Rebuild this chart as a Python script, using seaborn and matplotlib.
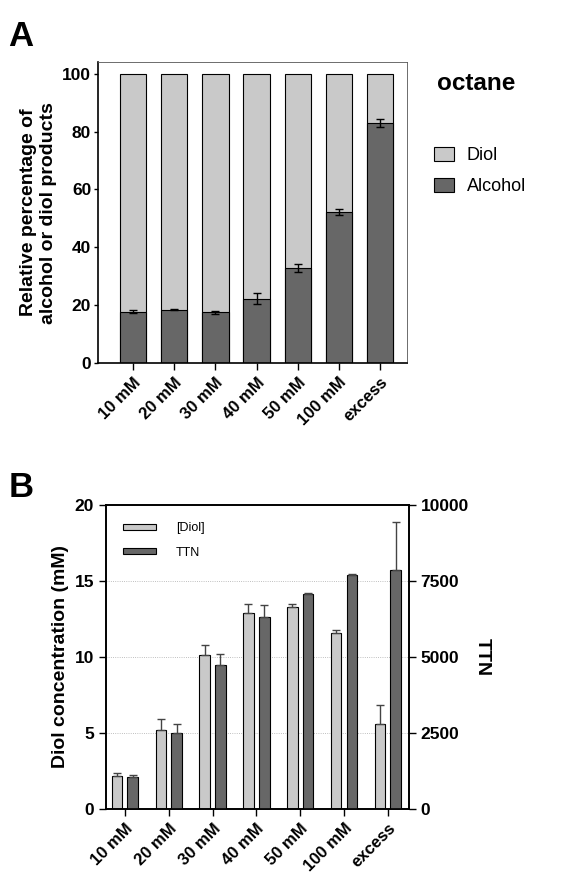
import numpy as np
import pandas as pd
import seaborn as sns
import matplotlib.pyplot as plt
from matplotlib.patches import Patch

conditions = ['10 mM', '20 mM', '30 mM', '40 mM', '50 mM', '100 mM', 'excess']

# panel A: relative percentage (alcohol fraction, total = 100)
alcohol_pct = [17.8, 18.4, 17.5, 22.3, 33.0, 52.3, 83.0]
alcohol_err = [0.5, 0.2, 0.4, 2.0, 1.4, 1.1, 1.4]
total_pct = [100, 100, 100, 100, 100, 100, 100]

# panel B: diol concentration (mM) and TTN
diol_mM = [2.2, 5.2, 10.1, 12.9, 13.3, 11.6, 5.6]
diol_err = [0.2, 0.7, 0.7, 0.6, 0.15, 0.15, 1.25]
ttn = [1050, 2500, 4750, 6300, 7075, 7700, 7875]
ttn_err = [75, 300, 350, 400, 15, 25, 1575]

LIGHT = '#c9c9c9'
DARK = '#676767'

sns.set_style('white')
plt.rcParams['font.family'] = ['Liberation Sans', 'DejaVu Sans']
plt.rcParams['text.color'] = 'black'
plt.rcParams['axes.labelcolor'] = 'black'
plt.rcParams['xtick.color'] = 'black'
plt.rcParams['ytick.color'] = 'black'

fig = plt.figure(figsize=(5.64, 8.75), dpi=100)

# ---------------- panel A ----------------
axA = fig.add_axes([0.174, 0.585, 0.548, 0.344])
dfA = pd.DataFrame({'cond': conditions, 'total': total_pct, 'alcohol': alcohol_pct})
sns.barplot(data=dfA, x='cond', y='total', color=LIGHT, saturation=1, width=0.64,
            edgecolor='black', linewidth=0.8, ax=axA)
sns.barplot(data=dfA, x='cond', y='alcohol', color=DARK, saturation=1, width=0.64,
            edgecolor='black', linewidth=0.8, ax=axA)
axA.errorbar(np.arange(len(conditions)), alcohol_pct, yerr=alcohol_err, fmt='none',
             ecolor='black', elinewidth=1, capsize=3, capthick=1)
axA.set_ylim(0, 104)
axA.set_xlim(-0.85, 6.66)
axA.set_yticks([0, 20, 40, 60, 80, 100])
axA.set_xlabel('')
axA.set_ylabel('Relative percentage of\nalcohol or diol products', fontsize=14,
               fontweight='bold', labelpad=4)
axA.tick_params(axis='both', which='both', direction='out', length=5, width=1,
                color='black', labelsize=12.5)
axA.tick_params(axis='y', left=True, length=3, pad=2)
axA.tick_params(axis='x', bottom=True)
for lab in axA.get_yticklabels():
    lab.set_fontweight('bold')
axA.set_xticks(range(len(conditions)))
axA.set_xticklabels(conditions, rotation=45, ha='right', rotation_mode='anchor',
                    fontweight='bold', fontsize=12)
for s in ['left', 'bottom']:
    axA.spines[s].set_color('black')
    axA.spines[s].set_linewidth(1.2)
for s in ['top', 'right']:
    axA.spines[s].set_color('#555555')
    axA.spines[s].set_linewidth(0.6)

fig.text(0.845, 0.905, 'octane', fontsize=17.5, fontweight='bold', ha='center', va='center')
handlesA = [Patch(facecolor=LIGHT, edgecolor='black', linewidth=0.8, label='Diol'),
            Patch(facecolor=DARK, edgecolor='black', linewidth=0.8, label='Alcohol')]
fig.legend(handles=handlesA, loc='upper left', bbox_to_anchor=(0.757, 0.84),
           frameon=False, fontsize=13, handlelength=1.1, handleheight=0.8,
           labelspacing=0.75, handletextpad=0.7, borderaxespad=0)

fig.text(0.015, 0.977, 'A', fontsize=25, fontweight='bold', ha='left', va='top')

# ---------------- panel B ----------------
axB = fig.add_axes([0.188, 0.0754, 0.537, 0.3476])
axB2 = axB.twinx()
hue_levels = ['[Diol]', 'TTN']
dfB1 = pd.DataFrame({'cond': conditions, 'val': diol_mM, 'kind': '[Diol]'})
dfB2 = pd.DataFrame({'cond': conditions, 'val': ttn, 'kind': 'TTN'})
sns.barplot(data=dfB1, x='cond', y='val', hue='kind', hue_order=hue_levels,
            palette={'[Diol]': LIGHT, 'TTN': DARK}, saturation=1, width=0.72, gap=0.33,
            dodge=True, edgecolor='black', linewidth=0.8, legend=False, ax=axB)
sns.barplot(data=dfB2, x='cond', y='val', hue='kind', hue_order=hue_levels,
            palette={'[Diol]': LIGHT, 'TTN': DARK}, saturation=1, width=0.72, gap=0.33,
            dodge=True, edgecolor='black', linewidth=0.8, legend=False, ax=axB2)
xs = np.arange(len(conditions))
axB.errorbar(xs - 0.18, diol_mM, yerr=[np.zeros(len(diol_err)), diol_err], fmt='none',
             ecolor='#444444', elinewidth=1, capsize=3, capthick=1)
axB2.errorbar(xs + 0.18, ttn, yerr=[np.zeros(len(ttn_err)), ttn_err], fmt='none',
              ecolor='#444444', elinewidth=1, capsize=3, capthick=1)
axB.set_ylim(0, 20)
axB2.set_ylim(0, 10000)
axB.set_xlim(-0.43, 6.48)
axB.set_yticks([0, 5, 10, 15, 20])
axB2.set_yticks([0, 2500, 5000, 7500, 10000])
for y in [5, 10, 15]:
    axB.axhline(y, color='#aaaaaa', lw=0.6, ls=':', zorder=0)
axB.set_xlabel('')
axB2.set_xlabel('')
axB.set_ylabel('Diol concentration (mM)', fontsize=14, fontweight='bold', labelpad=4)
axB2.set_ylabel('TTN', fontsize=14, fontweight='bold', rotation=270, labelpad=16)
for a in (axB, axB2):
    a.tick_params(axis='both', direction='out', length=5, width=1, color='black',
                  labelsize=12.5)
    for lab in a.get_yticklabels():
        lab.set_fontweight('bold')
    for s in a.spines.values():
        s.set_color('black')
        s.set_linewidth(1.2)
axB.tick_params(axis='x', bottom=True)
axB.tick_params(axis='y', left=True)
axB2.tick_params(axis='y', right=True)
axB.set_xticks(range(len(conditions)))
axB.set_xticklabels(conditions, rotation=45, ha='right', rotation_mode='anchor',
                    fontweight='bold', fontsize=12)
handlesB = [Patch(facecolor=LIGHT, edgecolor='black', linewidth=0.8, label='[Diol]'),
            Patch(facecolor=DARK, edgecolor='black', linewidth=0.8, label='TTN')]
axB2.legend(handles=handlesB, loc='upper left', bbox_to_anchor=(0.02, 0.98),
            frameon=False, fontsize=9, handlelength=2.6, handleheight=0.4,
            labelspacing=1.0, handletextpad=1.6)

fig.text(0.015, 0.462, 'B', fontsize=25, fontweight='bold', ha='left', va='top')

fig.savefig('out.png', dpi=100)
